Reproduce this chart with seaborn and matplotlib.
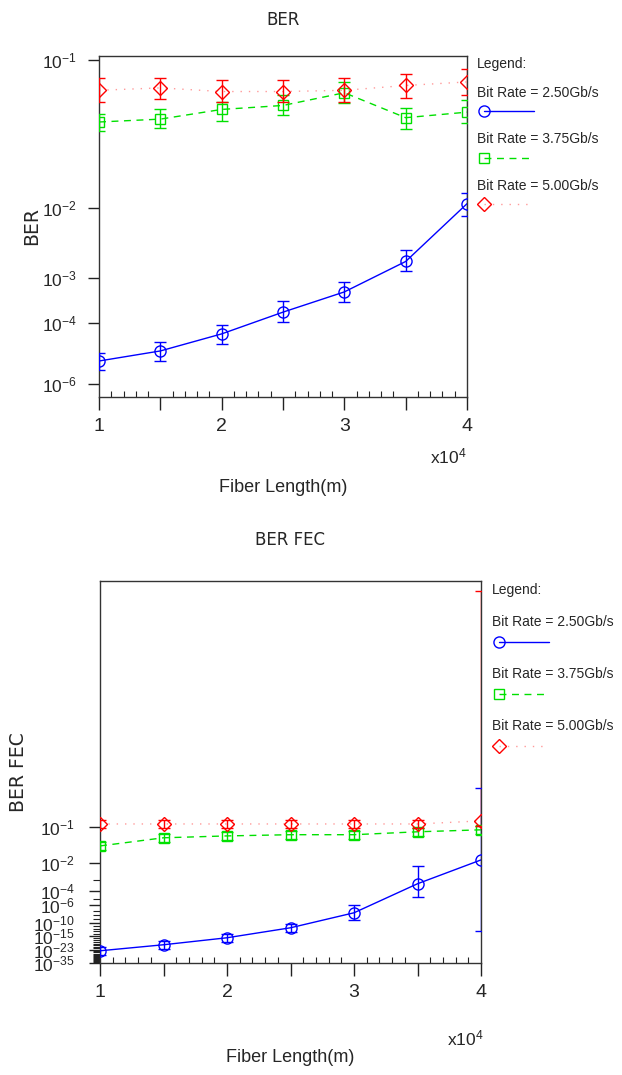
import math
import numpy as np
import matplotlib
matplotlib.use('Agg')
import matplotlib.pyplot as plt
from matplotlib.lines import Line2D
from matplotlib.ticker import FixedLocator, FixedFormatter, MultipleLocator, FuncFormatter, NullLocator
import seaborn as sns

# fiber lengths (m)
lengths = [10000, 15000, 20000, 25000, 30000, 35000, 40000]
rate_labels = ['Bit Rate = 2.50Gb/s', 'Bit Rate = 3.75Gb/s', 'Bit Rate = 5.00Gb/s']

# BER (top chart): mean, upper and lower bar ends
ber_250 = [7.4e-6, 1.6e-5, 5.2e-5, 1.9e-4, 5.3e-4, 1.9e-3, 1.1e-2]
ber_250_hi = [1.4e-5, 3.0e-5, 9.1e-5, 3.4e-4, 8.3e-4, 2.9e-3, 1.4e-2]
ber_250_lo = [3.5e-6, 7.4e-6, 2.6e-5, 1.1e-4, 3.2e-4, 1.3e-3, 8.0e-3]
ber_375 = [5.0e-2, 5.2e-2, 5.9e-2, 6.2e-2, 7.2e-2, 5.3e-2, 5.7e-2]
ber_375_hi = [5.6e-2, 5.9e-2, 6.5e-2, 7.0e-2, 8.1e-2, 6.0e-2, 6.6e-2]
ber_375_lo = [4.4e-2, 4.6e-2, 5.1e-2, 5.5e-2, 6.4e-2, 4.5e-2, 4.9e-2]
ber_500 = [7.4e-2, 7.6e-2, 7.3e-2, 7.3e-2, 7.4e-2, 7.8e-2, 8.1e-2]
ber_500_hi = [8.4e-2, 8.4e-2, 8.3e-2, 8.3e-2, 8.4e-2, 8.8e-2, 9.2e-2]
ber_500_lo = [6.5e-2, 6.7e-2, 6.5e-2, 6.5e-2, 6.5e-2, 6.8e-2, 7.0e-2]

# BER after FEC (bottom chart)
fec_250 = [1.7e-24, 2.2e-20, 1.6e-16, 2.4e-12, 3.7e-8, 4.6e-4, 1.3e-2]
fec_250_hi = [1.2e-21, 4.5e-18, 1.1e-14, 5.1e-11, 1.3e-6, 7.0e-3, 2.5e-1]
fec_250_lo = [1.1e-27, 5.0e-23, 1.3e-18, 7.4e-14, 7.3e-10, 1.9e-5, 1.9e-13]
fec_375 = [3.9e-2, 6.2e-2, 6.8e-2, 7.2e-2, 7.2e-2, 8.2e-2, 8.9e-2]
fec_375_hi = [5.0e-2, 7.5e-2, 8.2e-2, 8.5e-2, 8.5e-2, 9.6e-2, 1.04e-1]
fec_375_lo = [3.0e-2, 5.0e-2, 5.6e-2, 5.9e-2, 5.9e-2, 6.8e-2, 7.5e-2]
fec_500 = [1.11e-1, 1.11e-1, 1.11e-1, 1.11e-1, 1.11e-1, 1.11e-1, 1.23e-1]
fec_500_hi = [1.27e-1, 1.27e-1, 1.27e-1, 1.27e-1, 1.27e-1, 1.27e-1, 4.9e-1]
fec_500_lo = [9.6e-2, 9.6e-2, 9.6e-2, 9.6e-2, 9.6e-2, 9.6e-2, 1.04e-1]

top_ticks = [1e-1, 1e-2, 1e-3, 1e-4, 1e-6]
top_labels = ['-1', '-2', '-3', '-4', '-6']
fec_ticks = [1e-1, 1e-2, 1e-4, 1e-6, 1e-10, 1e-15, 1e-23, 1e-35]
fec_labels = ['-1', '-2', '-4', '-6', '-10', '-15', '-23', '-35']
fec_minor = [10.0 ** -k for k in range(3, 37) if 10.0 ** -k not in fec_ticks]

# BER axis is linear in Q factor (dB)
_erfc = np.vectorize(math.erfc, otypes=[float])


def q_from_ber(ber):
    b = np.clip(np.asarray(ber, dtype=float), 1e-290, 0.4999999)
    target = np.log(b)
    lo = np.full(b.shape, 1e-9)
    hi = np.full(b.shape, 36.0)
    for _ in range(70):
        mid = 0.5 * (lo + hi)
        too_big = np.log(0.5 * _erfc(mid / np.sqrt(2))) < target
        hi = np.where(too_big, mid, hi)
        lo = np.where(too_big, lo, mid)
    return 0.5 * (lo + hi)


def forward(ber):
    return -20 * np.log10(q_from_ber(ber))


def inverse(y):
    q = 10 ** (-np.asarray(y, dtype=float) / 20)
    return 0.5 * _erfc(q / np.sqrt(2))


sns.set_style('white')
plt.rcParams['font.family'] = ['Liberation Sans', 'DejaVu Sans']
plt.rcParams['mathtext.default'] = 'regular'

W, H = 622, 1075
fx = lambda px: px / W
fy = lambda py: 1 - py / H

styles = [
    dict(color='#0000ff', line='#0000ff', marker='o', ls='-', ms=8),
    dict(color='#00e000', line='#00e000', marker='s', ls=(0, (5, 4)), ms=7),
    dict(color='#ff0000', line='#ff9a9a', marker='D', ls=(0, (1, 5)), ms=7),
]

fig = plt.figure(figsize=(W / 100, H / 100), dpi=100)


def draw_panel(rect, series, ylim_db, ticks, labels, minor, label_pad):
    ax = fig.add_axes(rect)
    ax.set_yscale('function', functions=(forward, inverse))
    for (vals, hi, lo), st in zip(series, styles):
        vals, hi, lo = np.array(vals), np.array(hi), np.array(lo)
        sns.lineplot(x=lengths, y=vals, ax=ax, color=st['line'], linestyle=st['ls'],
                     linewidth=1.0, marker=st['marker'], markersize=st['ms'],
                     markerfacecolor='none', markeredgecolor=st['color'],
                     markeredgewidth=1.0, zorder=3)
        ax.errorbar(lengths, vals, yerr=[vals - lo, hi - vals], fmt='none',
                    ecolor=st['color'], elinewidth=1.0, capsize=4, capthick=1.0, zorder=3)
    ax.set_xlim(10000, 40000)
    ax.set_ylim(inverse(-ylim_db[1]), inverse(-ylim_db[0]))
    ax.yaxis.set_major_locator(FixedLocator(ticks))
    ax.yaxis.set_major_formatter(FixedFormatter(['10$^{%s}$' % l for l in labels]))
    if minor:
        ax.yaxis.set_minor_locator(FixedLocator(minor))
    else:
        ax.yaxis.set_minor_locator(NullLocator())
    ax.xaxis.set_major_locator(MultipleLocator(5000))
    ax.xaxis.set_major_formatter(FuncFormatter(
        lambda v, _: '%d' % round(v / 1e4) if round(v) % 10000 == 0 else ''))
    ax.xaxis.set_minor_locator(MultipleLocator(1000))
    ax.tick_params(axis='x', which='major', direction='out', length=9, width=1,
                   labelsize=14, pad=6, bottom=True, color='#222222')
    ax.tick_params(axis='x', which='minor', direction='in', length=4, width=0.8,
                   bottom=True, color='#222222')
    ax.tick_params(axis='y', which='major', direction='out', length=8, width=1,
                   labelsize=12.5, pad=label_pad, left=True, color='#222222')
    ax.tick_params(axis='y', which='minor', direction='out', length=5, width=0.8,
                   left=True, color='#222222')
    for sp in ax.spines.values():
        sp.set_color('#333333')
        sp.set_linewidth(1.0)
    ax.set_xlabel('')
    ax.set_ylabel('')
    return ax


draw_panel([fx(99), fy(397), fx(467) - fx(99), fy(56) - fy(397)],
           [(ber_250, ber_250_hi, ber_250_lo), (ber_375, ber_375_hi, ber_375_lo),
            (ber_500, ber_500_hi, ber_500_lo)],
           (2, 14), top_ticks, top_labels, None, 8)
draw_panel([fx(100), fy(963), fx(481) - fx(100), fy(581) - fy(963)],
           [(fec_250, fec_250_hi, fec_250_lo), (fec_375, fec_375_hi, fec_375_lo),
            (fec_500, fec_500_hi, fec_500_lo)],
           (-33.5, 21.9), fec_ticks, fec_labels, fec_minor, 10)

# titles and axis labels
fig.text(fx(283), fy(20), 'BER', ha='center', va='center', fontsize=12, family='DejaVu Sans')
fig.text(fx(290), fy(540), 'BER FEC', ha='center', va='center', fontsize=12, family='DejaVu Sans')
fig.text(fx(32), fy(226), 'BER', ha='center', va='center', rotation=90, fontsize=13.5,
         family='DejaVu Sans')
fig.text(fx(18), fy(772), 'BER FEC', ha='center', va='center', rotation=90, fontsize=13.5,
         family='DejaVu Sans')
for xc, yl, xr, ym in [(283, 488, 467, 456), (290, 1058, 484, 1038)]:
    fig.text(fx(xc), fy(yl), 'Fiber Length(m)', ha='center', va='center', fontsize=13)
    fig.text(fx(xr), fy(ym), 'x10$^{4}$', ha='right', va='center', fontsize=12.5)

# legends: label text with the sample drawn underneath
for x0, ys in [(477, (64, 93, 111, 139, 158, 186, 204)),
               (492, (590, 622, 642, 674, 694, 726, 746))]:
    fig.text(fx(x0), fy(ys[0]), 'Legend:', ha='left', va='center', fontsize=10)
    for i, (lab, st) in enumerate(zip(rate_labels, styles)):
        ty, hy = ys[1 + 2 * i], ys[2 + 2 * i]
        fig.text(fx(x0), fy(ty), lab, ha='left', va='center', fontsize=10)
        fig.add_artist(Line2D([fx(x0 + 7), fx(x0 + 57)], [fy(hy), fy(hy)],
                              transform=fig.transFigure, color=st['line'],
                              linestyle=st['ls'], linewidth=1.0))
        fig.add_artist(Line2D([fx(x0 + 7)], [fy(hy)], transform=fig.transFigure,
                              marker=st['marker'], markersize=st['ms'],
                              markerfacecolor='none', markeredgecolor=st['color'],
                              markeredgewidth=1.0, linestyle='none'))

fig.savefig('out.png', dpi=100)
